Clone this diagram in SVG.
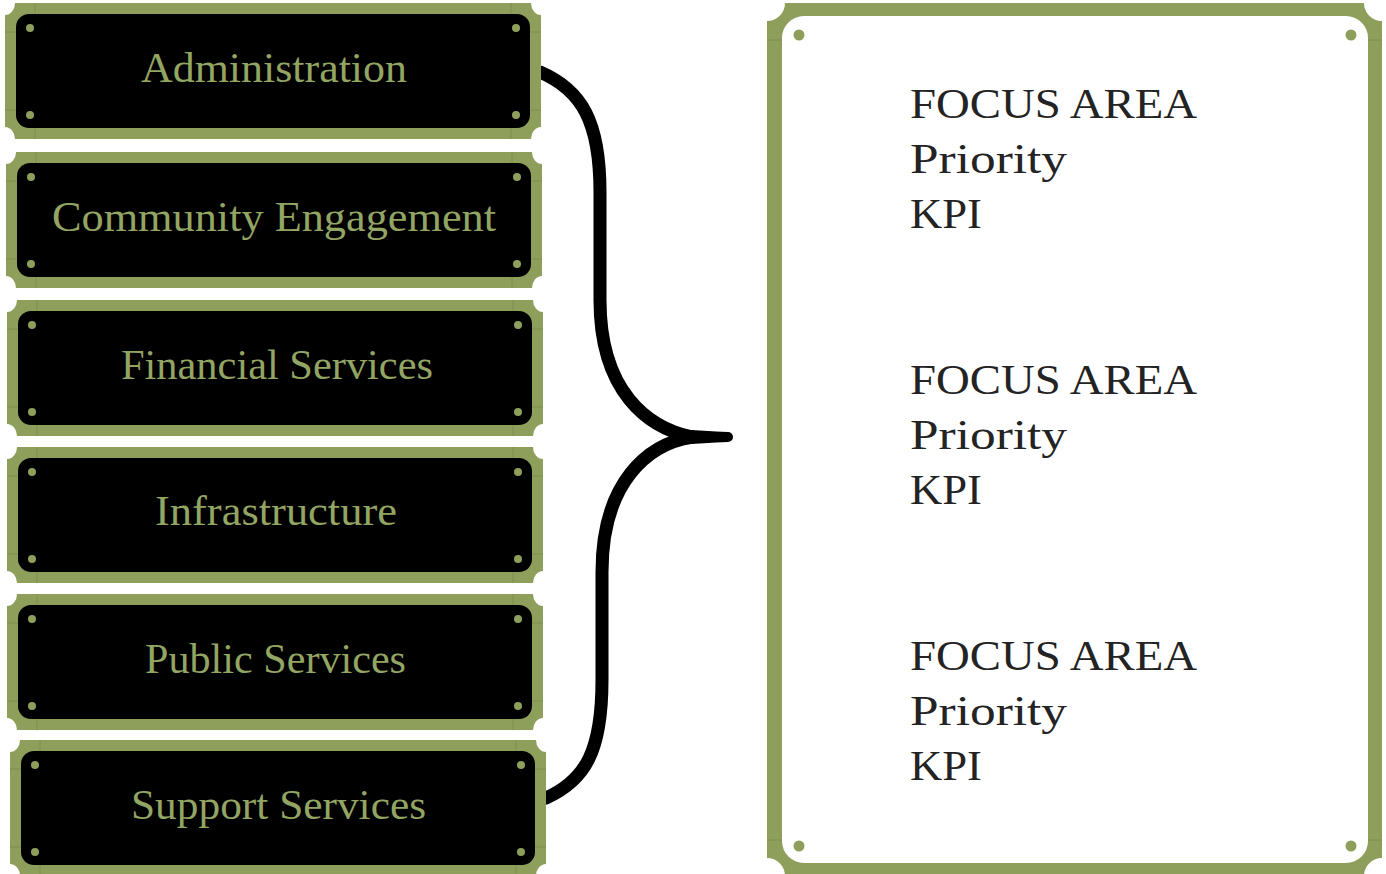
<svg xmlns="http://www.w3.org/2000/svg" width="1386" height="874" viewBox="0 0 1386 874">
  <defs>
    <style>
      .plate{fill:#8d9f5b}
      .inner{fill:#000}
      .dot{fill:#8d9f5b}
      .seam{stroke:#7d8e4d;stroke-width:1;fill:none}
      .lbl{font-family:"Liberation Serif","Times New Roman",serif;font-size:42px;fill:#93a563;text-anchor:middle}
      .fa{font-family:"Liberation Serif","Times New Roman",serif;font-size:42px;fill:#232323}
      .brace{fill:none;stroke:#000;stroke-width:13;stroke-linecap:round}
    </style>
    <g id="plaque">
      <path class="plate" d="M10,0 H526 A10,12 0 0 0 536,12 V124 A10,12 0 0 0 526,136 H10 A10,12 0 0 0 0,124 V12 A10,12 0 0 0 10,0 Z"/>
      <path class="seam" d="M30,0 V11 M30,125 V136 M506,0 V11 M506,125 V136 M0,29 H11 M0,107 H11 M525,29 H536 M525,107 H536"/>
      <rect class="inner" x="11" y="11" width="514" height="114" rx="13"/>
      <circle class="dot" cx="25" cy="25" r="4"/>
      <circle class="dot" cx="25" cy="112" r="4"/>
      <circle class="dot" cx="511" cy="25" r="4"/>
      <circle class="dot" cx="511" cy="112" r="4"/>
    </g>
  </defs>
  <rect width="1386" height="874" fill="#fff"/>

  <g id="connectors">
    <path class="brace" d="M540,72 C582,90 600,122 600,192 L600,300 C600,392 648,428 692,437"/>
    <path class="brace" d="M546,798 C586,780 602,750 602,680 L602,572 C602,482 648,444 692,437"/>
    <path d="M678,429 Q705,431 728,432 A5,5 0 0 1 728,442 Q705,443 678,445 Z" fill="#000"/>
  </g>

  <g id="node-administration">
    <use href="#plaque" x="5" y="3"/>
    <text class="lbl" x="274" y="82" textLength="266" lengthAdjust="spacingAndGlyphs">Administration</text>
  </g>
  <g id="node-community">
    <use href="#plaque" x="6" y="152"/>
    <text class="lbl" x="274" y="231" textLength="444" lengthAdjust="spacingAndGlyphs">Community Engagement</text>
  </g>
  <g id="node-financial">
    <use href="#plaque" x="7" y="300"/>
    <text class="lbl" x="277" y="379" textLength="312" lengthAdjust="spacingAndGlyphs">Financial Services</text>
  </g>
  <g id="node-infrastructure">
    <use href="#plaque" x="7" y="447"/>
    <text class="lbl" x="276" y="525" textLength="242" lengthAdjust="spacingAndGlyphs">Infrastructure</text>
  </g>
  <g id="node-public">
    <use href="#plaque" x="7" y="594"/>
    <text class="lbl" x="275.5" y="673" textLength="261" lengthAdjust="spacingAndGlyphs">Public Services</text>
  </g>
  <g id="node-support">
    <use href="#plaque" x="10" y="740"/>
    <text class="lbl" x="278.5" y="819" textLength="295" lengthAdjust="spacingAndGlyphs">Support Services</text>
  </g>

  <g id="node-focus-panel">
    <path class="plate" d="M785,3 H1364 A18,18 0 0 0 1382,21 V858 A18,18 0 0 0 1364,876 H785 A18,18 0 0 0 767,858 V21 A18,18 0 0 0 785,3 Z"/>
    <path class="seam" d="M767,40 H782 M767,840 H782 M1368,40 H1382 M1368,840 H1382"/>
    <rect x="782" y="16" width="586" height="847" rx="22" fill="#fff"/>
    <circle class="dot" cx="799" cy="35" r="5.5"/>
    <circle class="dot" cx="1351" cy="35" r="5.5"/>
    <circle class="dot" cx="799" cy="846" r="5.5"/>
    <circle class="dot" cx="1351" cy="846" r="5.5"/>
    <text class="fa" x="910" y="118" textLength="287" lengthAdjust="spacingAndGlyphs">FOCUS AREA</text>
    <text class="fa" x="910" y="173" textLength="157" lengthAdjust="spacingAndGlyphs">Priority</text>
    <text class="fa" x="910" y="228" textLength="72" lengthAdjust="spacingAndGlyphs">KPI</text>
    <text class="fa" x="910" y="394" textLength="287" lengthAdjust="spacingAndGlyphs">FOCUS AREA</text>
    <text class="fa" x="910" y="449" textLength="157" lengthAdjust="spacingAndGlyphs">Priority</text>
    <text class="fa" x="910" y="504" textLength="72" lengthAdjust="spacingAndGlyphs">KPI</text>
    <text class="fa" x="910" y="670" textLength="287" lengthAdjust="spacingAndGlyphs">FOCUS AREA</text>
    <text class="fa" x="910" y="725" textLength="157" lengthAdjust="spacingAndGlyphs">Priority</text>
    <text class="fa" x="910" y="780" textLength="72" lengthAdjust="spacingAndGlyphs">KPI</text>
  </g>
</svg>
